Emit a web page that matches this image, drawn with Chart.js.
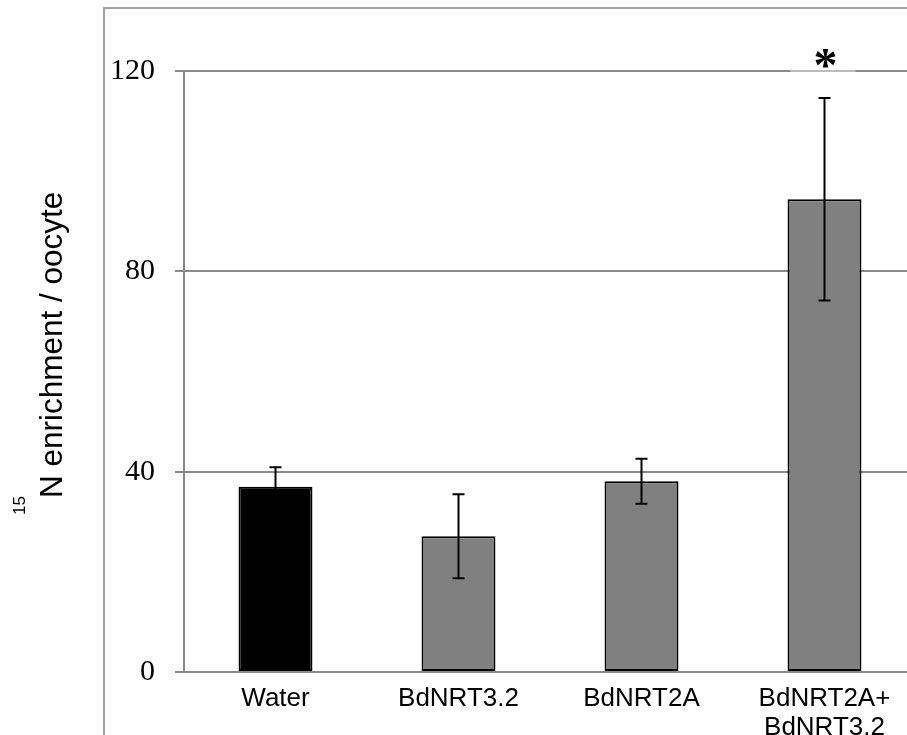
<!DOCTYPE html>
<html>
<head>
<meta charset="utf-8">
<script src="https://cdn.jsdelivr.net/npm/chart.js@4"></script>
<style>
  html, body { margin: 0; padding: 0; background: #fff; overflow: hidden; }
  #wrap { width: 907px; height: 735px; overflow: hidden; }
</style>
</head>
<body>
<div id="wrap"><canvas id="chart" width="940" height="735"></canvas></div>
<script>
// --- données ---
const categories = ['Water', 'BdNRT3.2', 'BdNRT2A', ['BdNRT2A+', 'BdNRT3.2']];
const enrichment = [37.0, 27.1, 38.1, 94.4];
const errors = [3.9, 8.4, 4.5, 20.2];
const stars = ['', '', '', '*'];
const yTicks = [0, 40, 80, 120];

const barColors = ['#000000', '#808080', '#808080', '#808080'];
const axisGray = '#8a8a8a';

// cadre gris autour du graphique
const framePlugin = {
  id: 'frame',
  beforeDraw(chart) {
    const ctx = chart.ctx;
    ctx.save();
    ctx.strokeStyle = '#a0a0a0';
    ctx.lineWidth = 2;
    ctx.strokeRect(104, 8, 2000, 2000);
    ctx.restore();
  }
};

// titre de l'axe Y avec exposant 15
const yTitlePlugin = {
  id: 'yTitle',
  afterDraw(chart) {
    const ctx = chart.ctx;
    ctx.save();
    ctx.translate(62, 498);
    ctx.rotate(-Math.PI / 2);
    ctx.fillStyle = '#000';
    ctx.textBaseline = 'alphabetic';
    ctx.textAlign = 'left';
    ctx.font = '31.5px "Liberation Sans", Arial, sans-serif';
    ctx.fillText('N enrichment / oocyte', 0, 0);
    ctx.textAlign = 'right';
    ctx.font = '17px "Liberation Sans", Arial, sans-serif';
    ctx.fillText('15', 2, -37);
    ctx.restore();
  }
};

// barres d'erreur + étoiles
const errorPlugin = {
  id: 'errorBars',
  afterDatasetsDraw(chart) {
    const ctx = chart.ctx;
    const y = chart.scales.y;
    const meta = chart.getDatasetMeta(0);
    ctx.save();
    ctx.strokeStyle = '#000';
    ctx.lineWidth = 2;
    meta.data.forEach((bar, i) => {
      const top = y.getPixelForValue(enrichment[i] + errors[i]);
      const bot = y.getPixelForValue(enrichment[i] - errors[i]);
      ctx.beginPath();
      ctx.moveTo(bar.x, top);
      ctx.lineTo(bar.x, bot);
      ctx.moveTo(bar.x - 6, top);
      ctx.lineTo(bar.x + 6, top);
      ctx.moveTo(bar.x - 6, bot);
      ctx.lineTo(bar.x + 6, bot);
      ctx.stroke();

      if (stars[i]) {
        const gy = y.getPixelForValue(y.max);
        ctx.strokeStyle = '#bcbcbc';
        ctx.beginPath();
        ctx.moveTo(bar.x - 34, gy);
        ctx.lineTo(bar.x + 31, gy);
        ctx.stroke();
        ctx.strokeStyle = '#000';
        ctx.fillStyle = '#000';
        ctx.font = 'bold 48px "Liberation Serif", "Times New Roman", serif';
        ctx.textAlign = 'center';
        ctx.textBaseline = 'alphabetic';
        ctx.fillText(stars[i], bar.x + 1, gy + 10);
      }
    });
    ctx.restore();
  }
};

new Chart(document.getElementById('chart'), {
  type: 'bar',
  data: {
    labels: categories,
    datasets: [{
      data: enrichment,
      backgroundColor: barColors,
      borderColor: '#000',
      borderWidth: 2,
      borderSkipped: false,
      categoryPercentage: 1,
      barPercentage: 0.404
    }]
  },
  options: {
    responsive: false,
    animation: false,
    layout: { padding: { top: 71, right: 24, bottom: 0, left: 0 } },
    plugins: {
      legend: { display: false },
      tooltip: { enabled: false }
    },
    scales: {
      x: {
        grid: { display: false },
        border: { display: true, color: axisGray, width: 2 },
        ticks: {
          color: '#000',
          padding: 5,
          maxRotation: 0,
          autoSkip: false,
          font: { family: '"Liberation Sans", Arial, sans-serif', size: 26, lineHeight: 1.1 }
        },
        afterFit(scale) { scale.height = 63; }
      },
      y: {
        min: 0,
        max: 120,
        afterBuildTicks(scale) { scale.ticks = yTicks.map(v => ({ value: v })); },
        grid: { color: axisGray, lineWidth: 2, tickLength: 9, drawTicks: true },
        border: { display: true, color: axisGray, width: 2 },
        ticks: {
          color: '#000',
          padding: 20,
          font: { family: '"Liberation Serif", "Times New Roman", serif', size: 30 }
        },
        afterFit(scale) { scale.width = 184; }
      }
    }
  },
  plugins: [framePlugin, yTitlePlugin, errorPlugin]
});
</script>
</body>
</html>
